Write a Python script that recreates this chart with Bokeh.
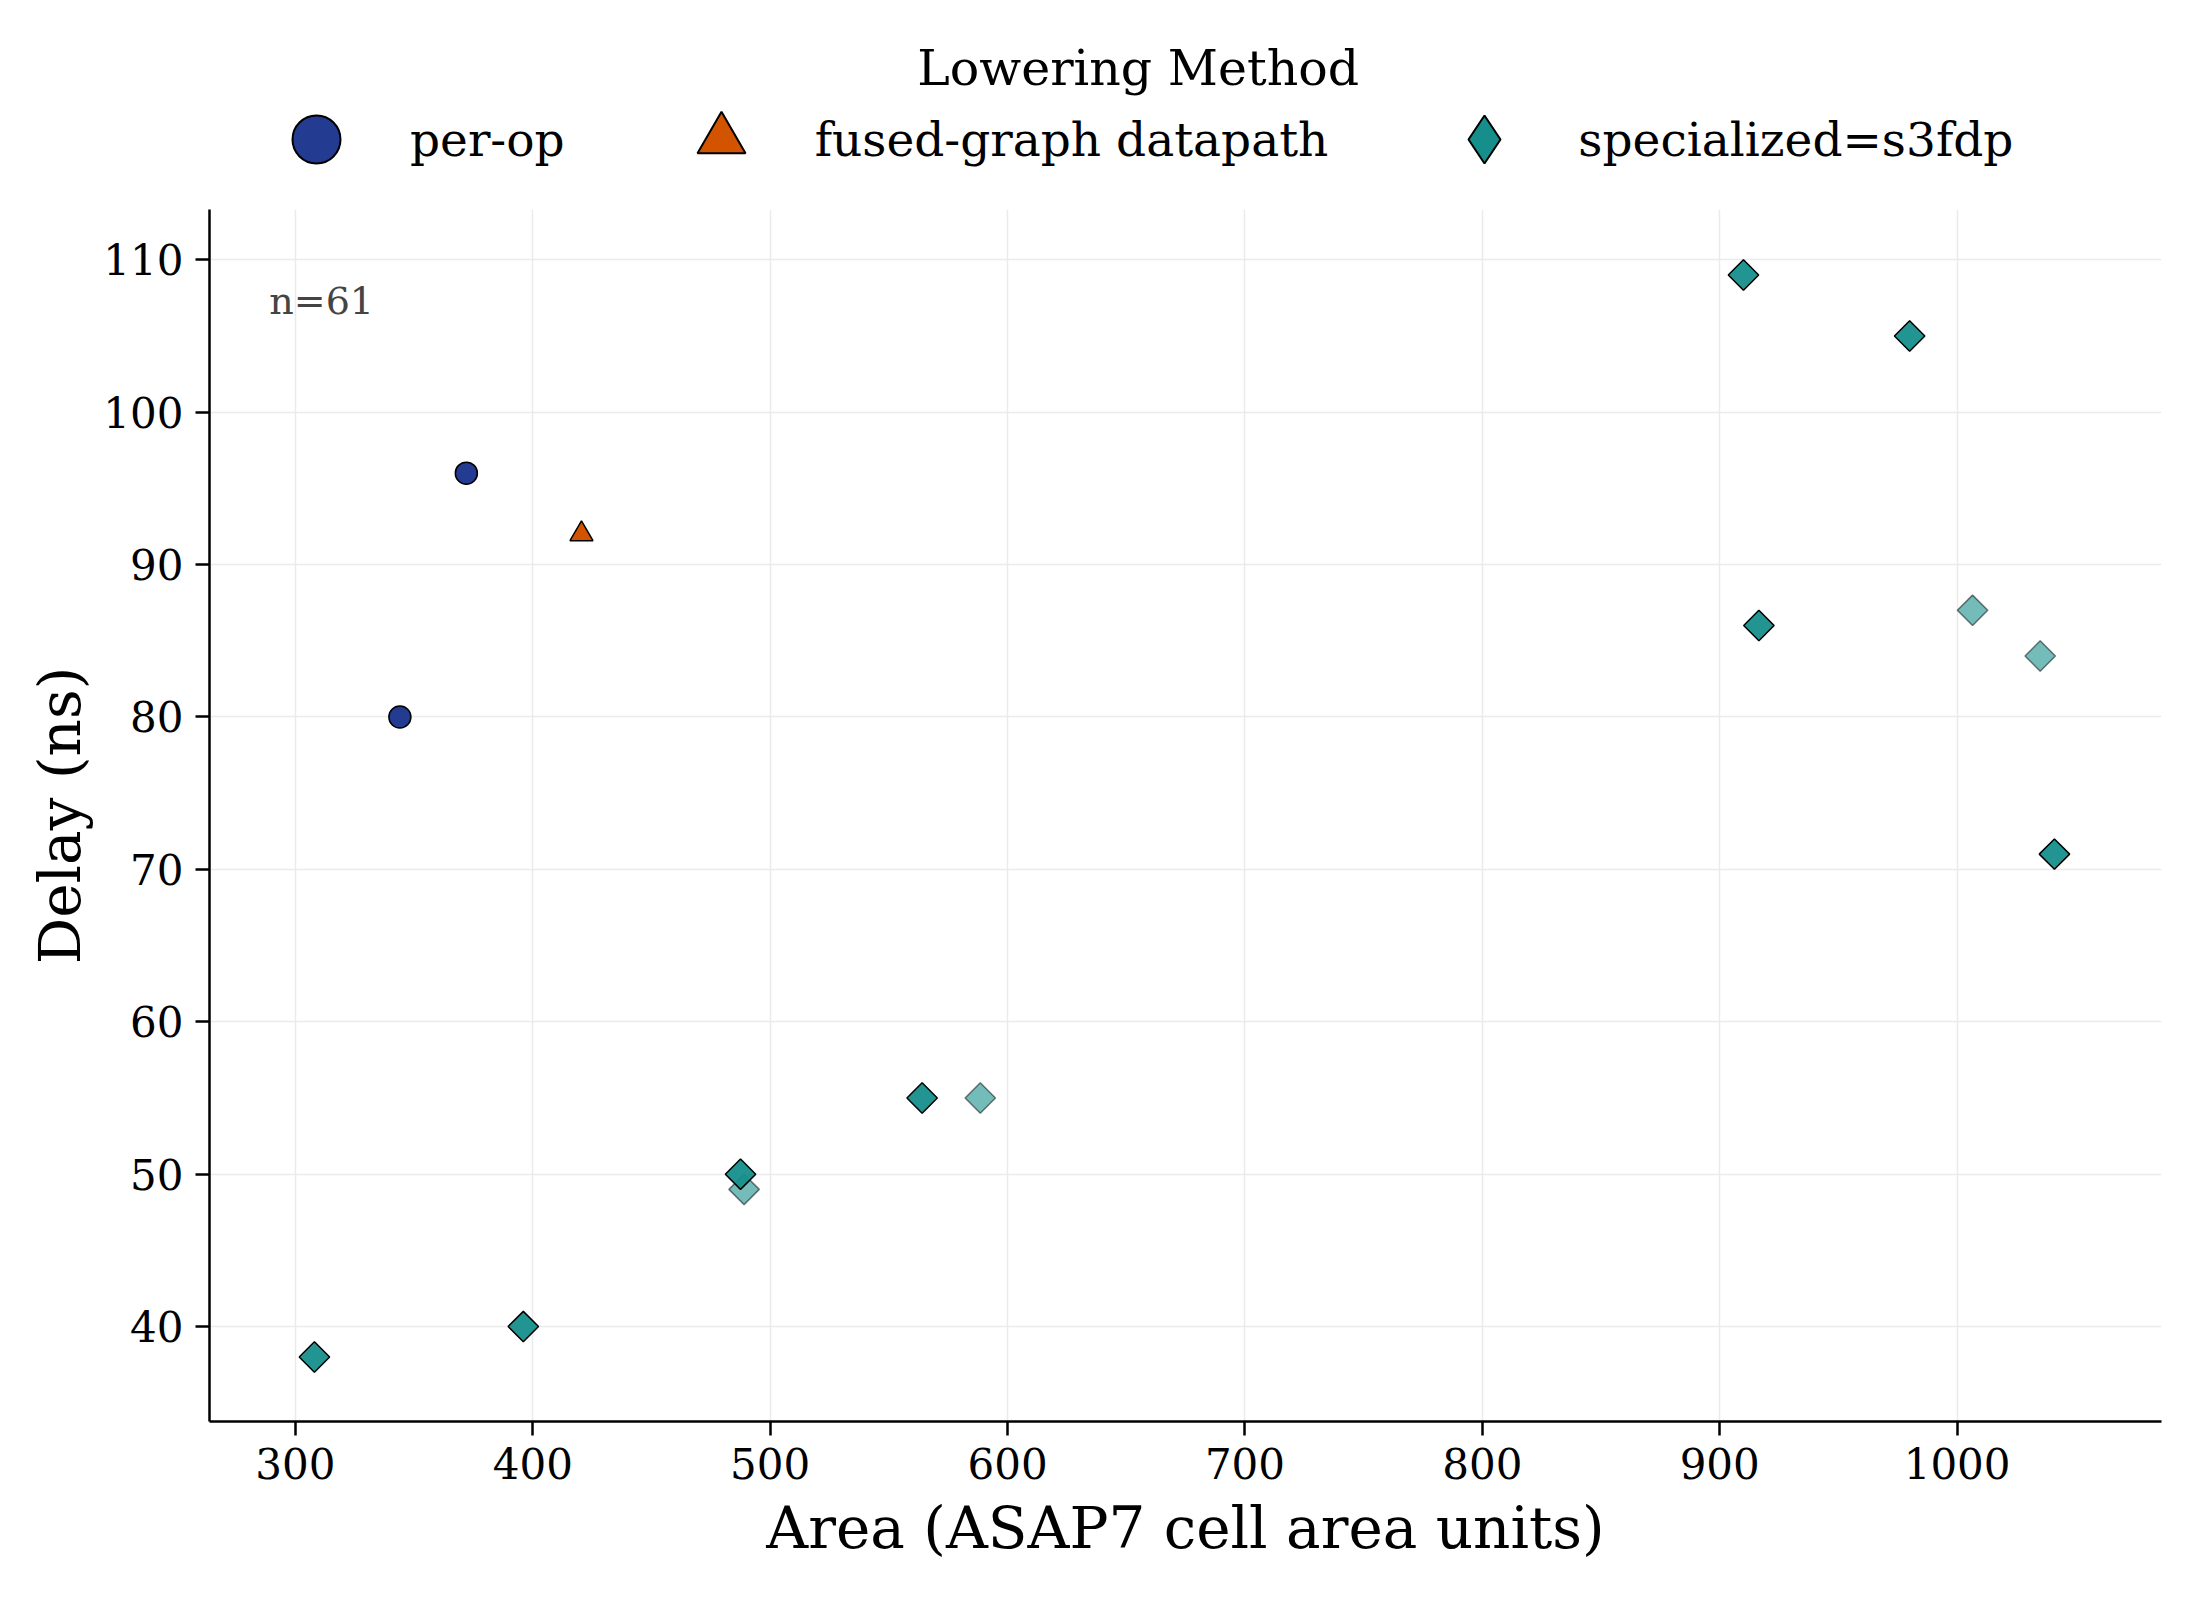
import math
from bokeh.plotting import figure
from bokeh.layouts import column
from bokeh.models import Legend, LegendItem, Label, FixedTicker, Range1d
from bokeh.embed import file_html
from bokeh.resources import INLINE

# ---- data ----
per_op_area = [344, 372]
per_op_delay = [80, 96]
fused_area = [420.5]
fused_delay = [92]
spec_area = [910, 980, 916.5, 1041, 564, 487.5, 396, 308]
spec_delay = [109, 105, 86, 71, 55, 50, 40, 38]
spec_alt_area = [1006.5, 1035, 588.5, 489]
spec_alt_delay = [87, 84, 55, 49]
x_ticks = [300, 400, 500, 600, 700, 800, 900, 1000]
y_ticks = [40, 50, 60, 70, 80, 90, 100, 110]
series_labels = ["per-op", "fused-graph datapath", "specialized=s3fdp"]
legend_title = "Lowering Method"
n_text = "n=61"

FONT = "DejaVu Serif"
BLUE = "#233b91"
ORANGE = "#d35400"
TEAL = "#168f8c"

W = 2184
TOP_H = 209
MAIN_H = 1375
X0, X1 = 263.8, 1086.1
Y0, Y1 = 33.77, 113.3

# ---------------- main scatter plot ----------------
p = figure(width=W, height=MAIN_H,
           x_range=Range1d(X0, X1), y_range=Range1d(Y0, Y1),
           output_backend="svg", toolbar_location=None,
           min_border_left=209, min_border_right=23,
           min_border_top=0, min_border_bottom=163)
p.outline_line_color = None
p.background_fill_color = "white"
p.border_fill_color = "white"

for g in (p.xgrid, p.ygrid):
    g.grid_line_color = "#ebebeb"
    g.grid_line_width = 1.5
p.xaxis.ticker = FixedTicker(ticks=x_ticks)
p.yaxis.ticker = FixedTicker(ticks=y_ticks)

for ax in (p.xaxis, p.yaxis):
    ax.axis_line_width = 2.5
    ax.axis_line_color = "black"
    ax.major_tick_line_width = 2.5
    ax.major_tick_line_color = "black"
    ax.major_tick_out = 14
    ax.major_tick_in = 0
    ax.minor_tick_line_color = None
    ax.major_label_text_font = FONT
    ax.major_label_text_font_size = "42px"
    ax.major_label_text_color = "black"
    ax.major_label_standoff = 12
    ax.axis_label_text_font = FONT
    ax.axis_label_text_font_style = "normal"
    ax.axis_label_text_color = "black"
    ax.axis_label_text_font_size = "58px"
p.xaxis.axis_label = "Area (ASAP7 cell area units)"
p.yaxis.axis_label = "Delay (ns)"
p.xaxis.axis_label_standoff = 12
p.yaxis.axis_label_standoff = 6

p.scatter(per_op_area, per_op_delay, marker="circle", size=22,
          fill_color=BLUE, line_color="black", line_width=1.5)
p.scatter(fused_area, fused_delay, marker="triangle", size=23,
          fill_color=ORANGE, line_color="black", line_width=1.5)
p.scatter(spec_alt_area, spec_alt_delay, marker="square", size=21.5,
          angle=math.pi / 4, fill_color=TEAL, fill_alpha=0.6,
          line_color="black", line_alpha=0.5, line_width=1.5)
p.scatter(spec_area, spec_delay, marker="square", size=21.5,
          angle=math.pi / 4, fill_color=TEAL, fill_alpha=0.95,
          line_color="black", line_width=1.5)

p.add_layout(Label(x=289, y=107.3, text=n_text, text_font=FONT,
                   text_font_size="38px", text_color="#444444",
                   text_baseline="alphabetic"))

# ---------------- legend strip above the plot ----------------
# shares the x scale of the main plot; y is in pixels of the strip
lg = figure(width=W, height=TOP_H, x_range=p.x_range, y_range=Range1d(0, TOP_H),
            output_backend="svg", toolbar_location=None,
            x_axis_location=None, y_axis_location=None,
            min_border_left=209, min_border_right=23,
            min_border_top=0, min_border_bottom=0)
lg.outline_line_color = None
lg.grid.visible = False
lg.background_fill_color = "white"
lg.border_fill_color = "white"

# legend swatches: same series, not drawn in the strip itself
k_per = lg.scatter(per_op_area, per_op_delay, marker="circle", fill_color=BLUE,
                   line_color="black", line_width=2, visible=False)
k_fused = lg.scatter(fused_area, fused_delay, marker="triangle", fill_color=ORANGE,
                     line_color="black", line_width=2, visible=False)
k_spec = lg.scatter(spec_area, spec_delay, marker="diamond", fill_color=TEAL,
                    line_color="black", line_width=2, visible=False)

legend = Legend(items=[LegendItem(label=series_labels[0], renderers=[k_per]),
                       LegendItem(label=series_labels[1], renderers=[k_fused]),
                       LegendItem(label=series_labels[2], renderers=[k_spec])],
                orientation="horizontal", location=(47, 10),
                glyph_width=120, glyph_height=120, label_standoff=34,
                spacing=96, label_text_font=FONT, label_text_font_size="47px",
                label_text_color="black",
                border_line_color=None, background_fill_alpha=0,
                inactive_fill_alpha=0,
                margin=0, padding=0)
lg.add_layout(legend)

lg.add_layout(Label(x=655, y=141, text=legend_title, text_font=FONT,
                    text_font_size="49px", text_color="black",
                    text_align="center", text_baseline="alphabetic"))

layout = column(lg, p, spacing=0)
open("out.html", "w").write(file_html(layout, INLINE))
